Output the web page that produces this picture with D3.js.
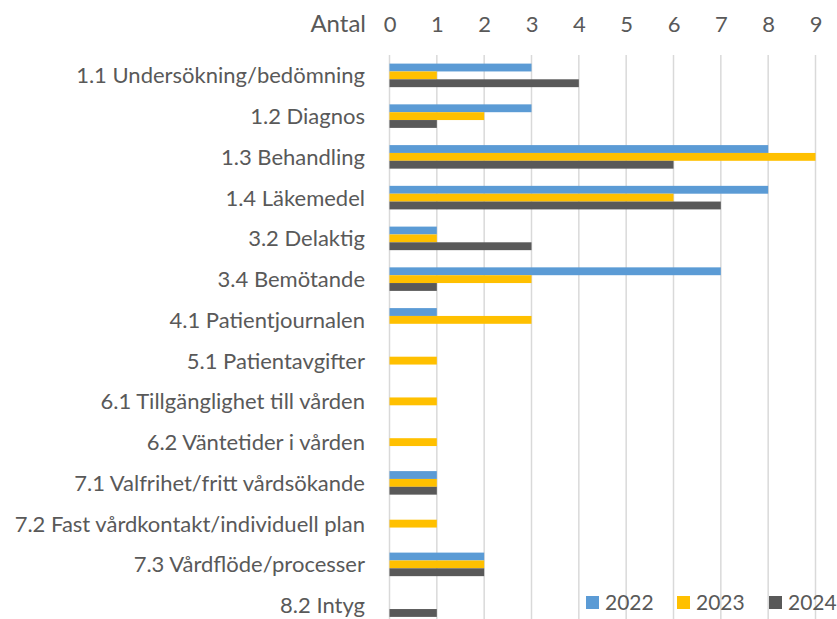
<!DOCTYPE html>
<html>
<head>
<meta charset="utf-8">
<script src="https://cdn.jsdelivr.net/npm/d3@7"></script>
<style>
  body { margin: 0; background: #fff; }
  svg { display: block; font-family: Lato, "Open Sans", sans-serif; }
</style>
</head>
<body>
<div class="chart"></div>
<script>
const categories = [
    "1.1 Undersökning/bedömning",
    "1.2 Diagnos",
    "1.3 Behandling",
    "1.4 Läkemedel",
    "3.2 Delaktig",
    "3.4 Bemötande",
    "4.1 Patientjournalen",
    "5.1 Patientavgifter",
    "6.1 Tillgänglighet till vården",
    "6.2 Väntetider i vården",
    "7.1 Valfrihet/fritt vårdsökande",
    "7.2 Fast vårdkontakt/individuell plan",
    "7.3 Vårdflöde/processer",
    "8.2 Intyg"
];
const years = ["2022", "2023", "2024"];
const values2022 = [3, 3, 8, 8, 1, 7, 1, 0, 0, 0, 1, 0, 2, 0];
const values2023 = [1, 2, 9, 6, 1, 3, 3, 1, 1, 1, 1, 1, 2, 0];
const values2024 = [4, 1, 6, 7, 3, 1, 0, 0, 0, 0, 1, 0, 2, 1];
const xTicks = [0, 1, 2, 3, 4, 5, 6, 7, 8, 9];
const axisTitle = "Antal";

const w = 837;
const h = 619;
const textColor = "#595959";
const colors = d3.scaleOrdinal().domain(years).range(["#5B9BD5", "#FFC000", "#595959"]);

const svg = d3.select(".chart").append("svg").attr("width", w).attr("height", h);

const xScale = d3.scaleLinear().domain([0, 9]).range([389.5, 815.5]);
const yScale = d3.scaleBand().domain(categories).range([55, 625.5]);
const inner = d3.scaleBand().domain(years).range([8.6, yScale.bandwidth() - 8.6]);

const series = [values2022, values2023, values2024];
const rows = [];
categories.forEach((c, i) => {
    years.forEach((y, j) => rows.push({ cat: c, year: y, value: series[j][i] }));
});

// grid lines
svg.append("g")
    .selectAll("line")
    .data(xTicks)
    .join("line")
    .attr("x1", (d) => xScale(d))
    .attr("x2", (d) => xScale(d))
    .attr("y1", 55)
    .attr("y2", h)
    .attr("stroke", "#d9d9d9")
    .attr("stroke-width", 1.5);

// top axis
const xAxis = d3.axisTop(xScale).tickValues(xTicks).tickSize(0).tickPadding(0);
svg.append("g")
    .attr("transform", "translate(0,32)")
    .call(xAxis)
    .call((g) => g.select(".domain").remove())
    .call((g) => g.selectAll("text")
        .attr("fill", textColor)
        .attr("font-size", 22)
        .attr("font-family", "Lato, sans-serif"));

svg.append("text")
    .attr("x", 366)
    .attr("y", 32)
    .attr("text-anchor", "end")
    .attr("fill", textColor)
    .attr("font-size", 24)
    .text(axisTitle);

// category labels
const yAxis = d3.axisLeft(yScale).tickSize(0).tickPadding(0);
svg.append("g")
    .attr("transform", "translate(365,0)")
    .call(yAxis)
    .call((g) => g.select(".domain").remove())
    .call((g) => g.selectAll("text")
        .attr("dy", null)
        .attr("y", 8)
        .attr("fill", textColor)
        .attr("font-size", 22)
        .attr("font-family", "Lato, sans-serif"));

// bars
svg.append("g")
    .selectAll("rect")
    .data(rows)
    .join("rect")
    .attr("x", xScale(0))
    .attr("y", (d) => yScale(d.cat) + inner(d.year))
    .attr("width", (d) => xScale(d.value) - xScale(0))
    .attr("height", inner.bandwidth())
    .attr("fill", (d) => colors(d.year));

// legend
const legendX = [586, 677, 769];
const legend = svg.append("g")
    .selectAll("g")
    .data(years)
    .join("g")
    .attr("transform", (d, i) => `translate(${legendX[i]},596)`);
legend.append("rect")
    .attr("width", 13)
    .attr("height", 13)
    .attr("fill", (d) => colors(d));
legend.append("text")
    .attr("x", 19)
    .attr("y", 14)
    .attr("fill", textColor)
    .attr("font-size", 21)
    .text((d) => d);
</script>
</body>
</html>
